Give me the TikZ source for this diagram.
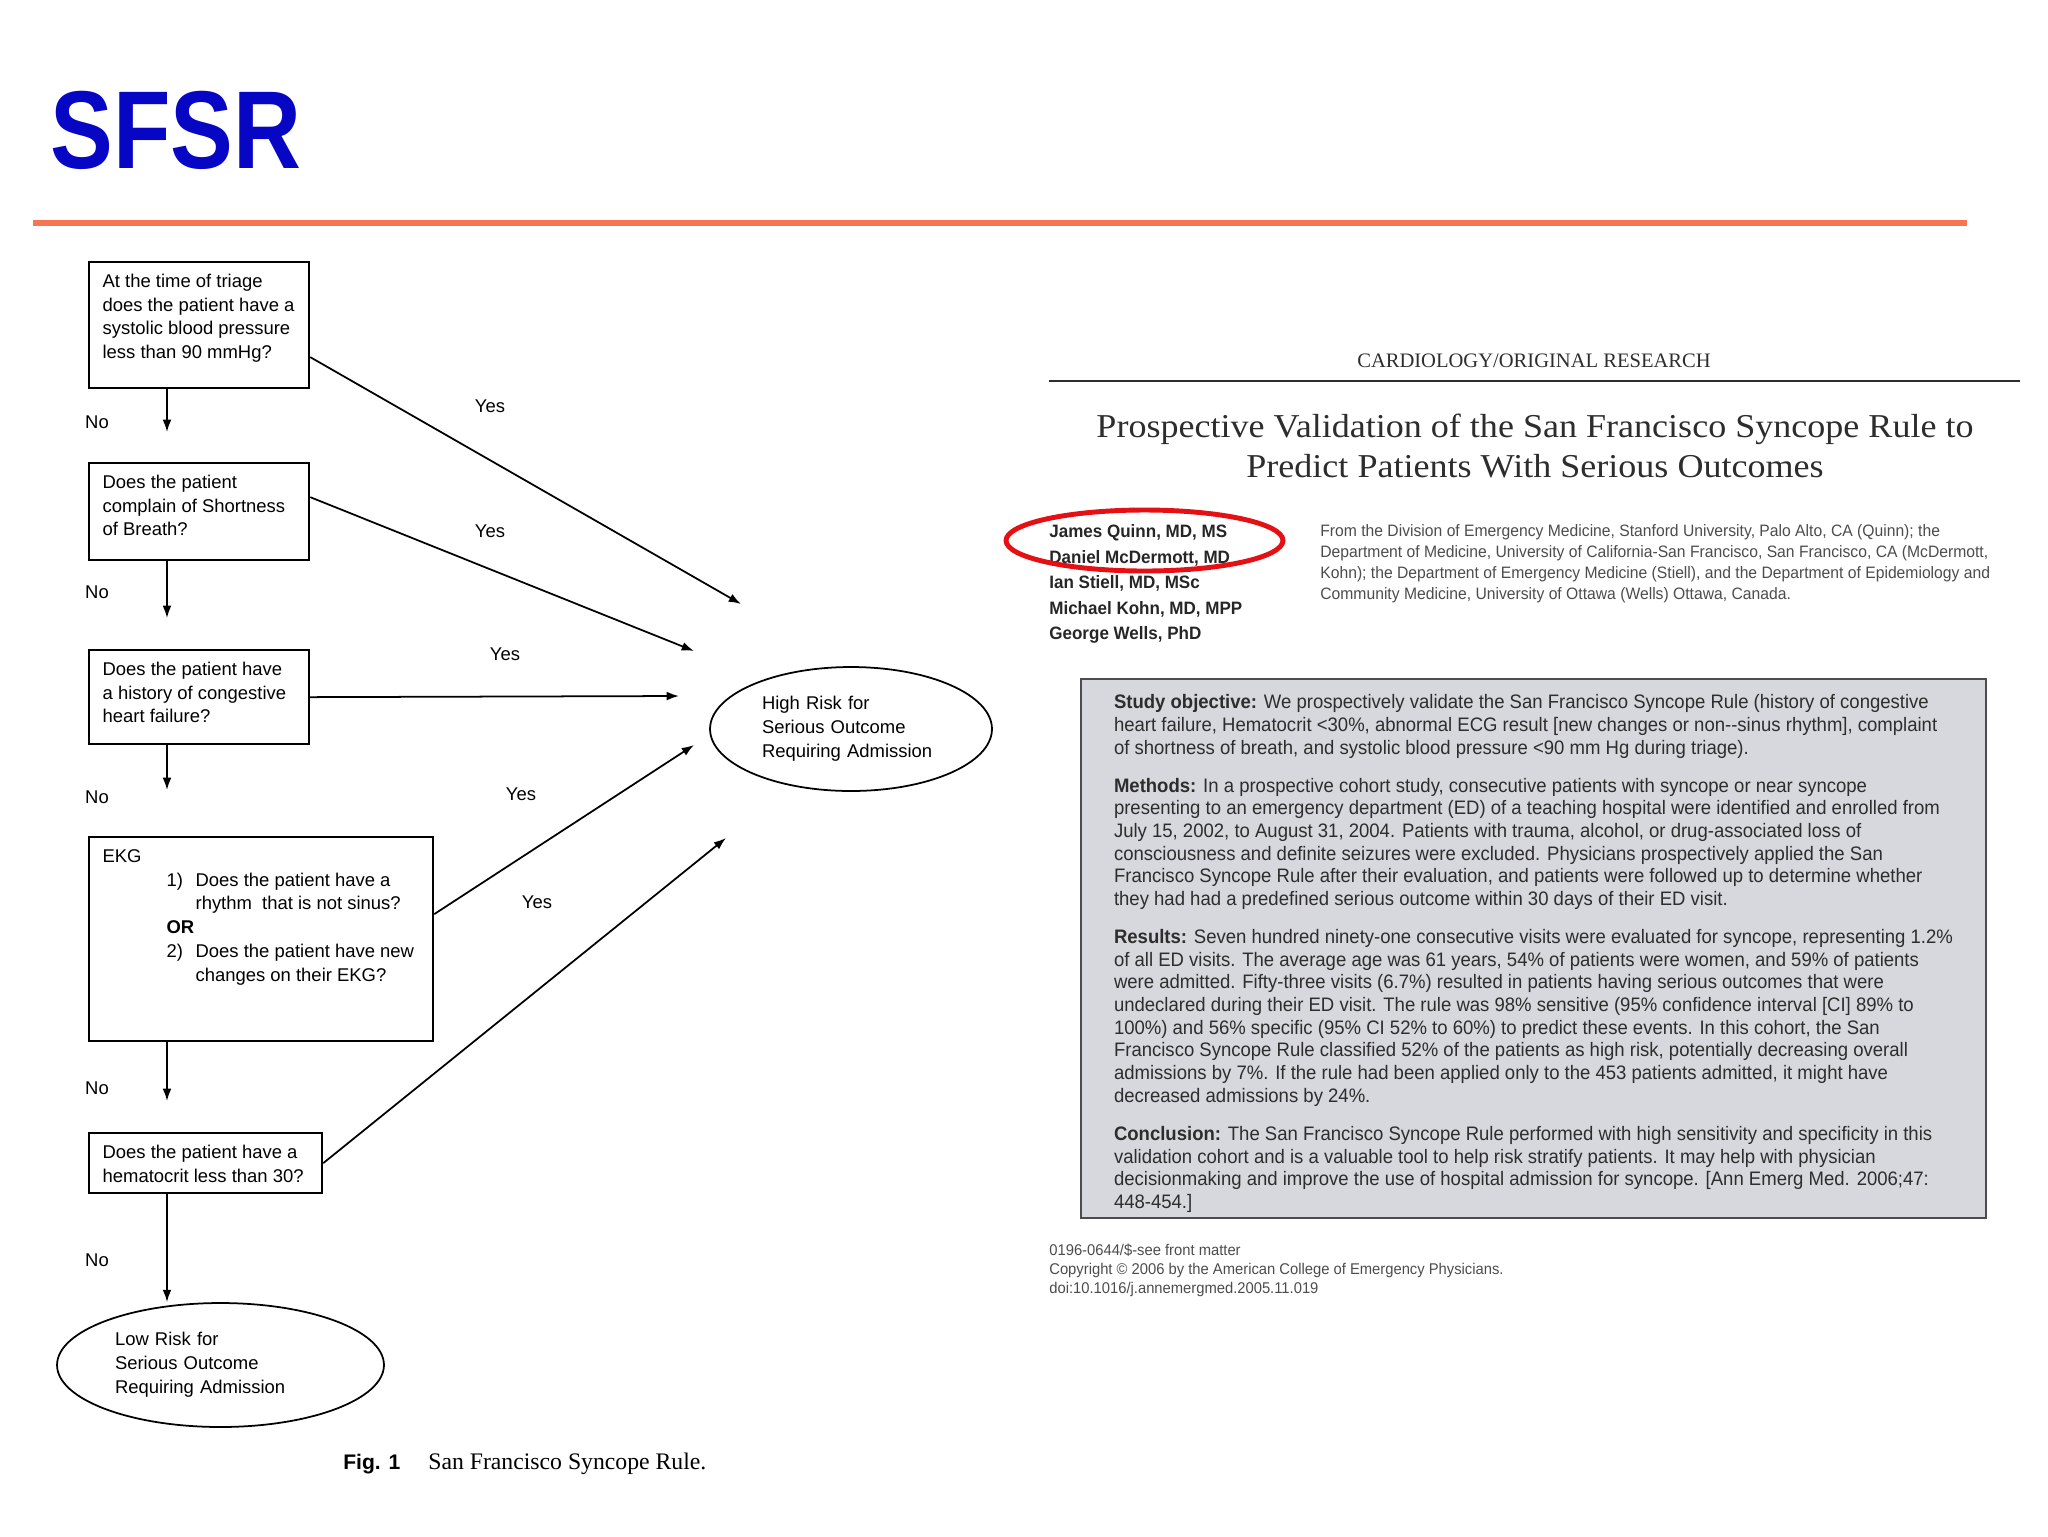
\documentclass[tikz,border=0pt]{standalone}
\usepackage{fontspec}
\setmainfont{Liberation Sans}
\newfontfamily\paperserif{Liberation Serif}
\newfontfamily\paperwide[FakeStretch=1.08]{Liberation Serif}
\newfontfamily\slidefont[FakeStretch=0.85]{Liberation Sans}
\newfontfamily\abssans[FakeStretch=0.95]{Liberation Sans}
\usetikzlibrary{arrows.meta, positioning, shapes.geometric}
\definecolor{sfsrblue}{RGB}{6,6,196}
\definecolor{ruleorange}{RGB}{246,118,84}
\definecolor{absgray}{RGB}{214,216,221}
\definecolor{inkgray}{RGB}{45,45,45}
\definecolor{markred}{RGB}{228,16,20}
\newcommand{\flowfont}{\fontsize{10.5}{13.6}\selectfont}
\newcommand{\qtext}[3]{\parbox[t][#1][t]{#2}{\begin{tabular}[t]{@{}l@{}}#3\end{tabular}}}
\newcommand{\ekgitem}[2]{\hspace*{1.28cm}\makebox[0.58cm][l]{#1}#2}

\begin{document}
\begin{tikzpicture}[
  x=0.02cm, y=-0.02cm,
  qbox/.style={draw, line width=1.3pt, anchor=north west, inner xsep=0.28cm, inner ysep=0.166cm, font=\flowfont},
  outcome/.style={draw, ellipse, line width=1pt, inner sep=0pt, align=left, font=\flowfont},
  arr/.style={-{Latex[length=7pt, width=5pt]}, line width=1pt},
  lbl/.style={font=\flowfont, inner sep=1pt}
]
\useasboundingbox (0,0) rectangle (2048,1536);

% Slide heading
\node[anchor=base west, inner sep=0pt, text=sfsrblue, font=\slidefont\bfseries\fontsize{63}{63}\selectfont] (slidetitle) at (50,168) {SFSR};
\draw[ruleorange, line width=3.4pt] (33,223) -- (1967,223);

% Flowchart: questions
\node[qbox] (q1) at (87.5,261) {\qtext{2.188cm}{3.85cm}{At the time of triage\\ does the patient have a\\ systolic blood pressure\\ less than 90 mmHg?}};
\node[qbox] (q2) at (87.5,462) {\qtext{1.608cm}{3.85cm}{Does the patient\\ complain of Shortness\\ of Breath?}};
\node[qbox] (q3) at (87.5,649) {\qtext{1.548cm}{3.85cm}{Does the patient have\\ a history of congestive\\ heart failure?}};
\node[qbox] (q4) at (87.5,836) {\qtext{3.748cm}{6.33cm}{EKG\\ \ekgitem{1)}{Does the patient have a}\\ \ekgitem{}{rhythm\ \ that is not sinus?}\\ \hspace*{1.28cm}\textbf{OR}\\ \ekgitem{2)}{Does the patient have new}\\ \ekgitem{}{changes on their EKG?}}};
\node[qbox] (q5) at (87.5,1132) {\qtext{0.868cm}{4.11cm}{Does the patient have a\\ hematocrit less than 30?}};

% Flowchart: outcomes
\node[outcome, minimum width=5.64cm, minimum height=2.48cm, text width=3.56cm] (highrisk) at (851,729) {High Risk for\\ Serious Outcome\\ Requiring Admission};
\node[outcome, minimum width=6.54cm, minimum height=2.48cm, text width=4.22cm] (lowrisk) at (220.5,1365) {Low Risk for\\ Serious Outcome\\ Requiring Admission};

% arrow ends
\coordinate (n1) at (167,432);
\coordinate (n2) at (167,618);
\coordinate (n3) at (167,790);
\coordinate (n4) at (167,1101);
\coordinate (h1) at (741,604);
\coordinate (h2) at (694,651);
\coordinate (h3) at (679,696);
\coordinate (h4) at (694,745);
\coordinate (h5) at (726,838);

\draw[arr] (q1.south west -| n1) -- (n1);
\draw[arr] (q2.south west -| n2) -- (n2);
\draw[arr] (q3.south west -| n3) -- (n3);
\draw[arr] (q4.south west -| n4) -- (n4);
\draw[arr] (q5.south west -| n4) -- (lowrisk.north -| n4);

\draw[arr] ([yshift=-0.64cm]q1.east) -- (h1);
\draw[arr] ([yshift=0.29cm]q2.east) -- (h2);
\draw[arr] (q3.east) -- (h3);
\draw[arr] ([yshift=0.5cm]q4.east) -- (h4);
\draw[arr] (q5.east) -- (h5);

\node[lbl] (no1) at (97,422) {No};
\node[lbl] (no2) at (97,592) {No};
\node[lbl] (no3) at (97,797) {No};
\node[lbl] (no4) at (97,1088) {No};
\node[lbl] (no5) at (97,1260) {No};
\node[lbl] (yes1) at (490,406) {Yes};
\node[lbl] (yes2) at (490,531) {Yes};
\node[lbl] (yes3) at (505,654) {Yes};
\node[lbl] (yes4) at (521,794) {Yes};
\node[lbl] (yes5) at (537,902) {Yes};

% Figure caption
\node[anchor=base west, inner sep=0pt, font=\bfseries\fontsize{12}{14}\selectfont] (figno) at (343,1469) {Fig. 1};
\node[anchor=base west, inner sep=0pt, font=\paperserif\fontsize{13.5}{15}\selectfont] (figcap) at (428,1469) {San Francisco Syncope Rule.};

% Paper header
\node[anchor=base, inner sep=0pt, text=inkgray, font=\paperserif\fontsize{11.7}{13}\selectfont] (section) at (1534,367) {CARDIOLOGY/ORIGINAL RESEARCH};
\draw[inkgray, line width=1.2pt] (1049,381) -- (2020,381);
\node[align=center, inner sep=0pt, text=inkgray, font=\paperwide\fontsize{19}{23}\selectfont] (papertitle) at (1535,446) {Prospective Validation of the San Francisco Syncope Rule to\\ Predict Patients With Serious Outcomes};

\node[anchor=north west, align=left, inner sep=0pt, text=black!85, font=\abssans\bfseries\fontsize{10.2}{14.6}\selectfont] (authors) at (1049,524) {James Quinn, MD, MS\\ Daniel McDermott, MD\\ Ian Stiell, MD, MSc\\ Michael Kohn, MD, MPP\\ George Wells, PhD};
\node[draw=markred, line width=2.8pt, ellipse, minimum width=5.54cm, minimum height=1.22cm] (mark) at (1144.5,540.5) {};
\node[anchor=north west, align=left, inner sep=0pt, text=black!70, font=\abssans\fontsize{9.4}{12}\selectfont] (affil) at (1320,524) {From the Division of Emergency Medicine, Stanford University, Palo Alto, CA (Quinn); the\\ Department of Medicine, University of California-San Francisco, San Francisco, CA (McDermott,\\ Kohn); the Department of Emergency Medicine (Stiell), and the Department of Epidemiology and\\ Community Medicine, University of Ottawa (Wells) Ottawa, Canada.};

% Abstract
\node[draw=black!70, line width=1.5pt, fill=absgray, minimum width=18.1cm, minimum height=10.78cm] (absbox) at (1533.5,948.5) {};
\node[align=left, inner sep=0pt, text=inkgray, font=\abssans\fontsize{11.1}{12.9}\selectfont] (abstract) at ([yshift=-0.1cm]absbox.center) {\textbf{Study objective:} We prospectively validate the San Francisco Syncope Rule (history of congestive\\ heart failure, Hematocrit <30\%, abnormal ECG result [new changes or non--sinus rhythm], complaint\\ of shortness of breath, and systolic blood pressure <90 mm Hg during triage).\\[8.8pt]
\textbf{Methods:} In a prospective cohort study, consecutive patients with syncope or near syncope\\ presenting to an emergency department (ED) of a teaching hospital were identified and enrolled from\\ July 15, 2002, to August 31, 2004. Patients with trauma, alcohol, or drug-associated loss of\\ consciousness and definite seizures were excluded. Physicians prospectively applied the San\\ Francisco Syncope Rule after their evaluation, and patients were followed up to determine whether\\ they had had a predefined serious outcome within 30 days of their ED visit.\\[8.8pt]
\textbf{Results:} Seven hundred ninety-one consecutive visits were evaluated for syncope, representing 1.2\%\\ of all ED visits. The average age was 61 years, 54\% of patients were women, and 59\% of patients\\ were admitted. Fifty-three visits (6.7\%) resulted in patients having serious outcomes that were\\ undeclared during their ED visit. The rule was 98\% sensitive (95\% confidence interval [CI] 89\% to\\ 100\%) and 56\% specific (95\% CI 52\% to 60\%) to predict these events. In this cohort, the San\\ Francisco Syncope Rule classified 52\% of the patients as high risk, potentially decreasing overall\\ admissions by 7\%. If the rule had been applied only to the 453 patients admitted, it might have\\ decreased admissions by 24\%.\\[8.8pt]
\textbf{Conclusion:} The San Francisco Syncope Rule performed with high sensitivity and specificity in this\\ validation cohort and is a valuable tool to help risk stratify patients. It may help with physician\\ decisionmaking and improve the use of hospital admission for syncope. [Ann Emerg Med. 2006;47:\\ 448-454.]};

\node[anchor=north west, align=left, inner sep=0pt, text=black!70, font=\abssans\fontsize{8.85}{10.8}\selectfont] (footer) at (1049,1244) {0196-0644/\$-see front matter\\ Copyright \textcopyright{} 2006 by the American College of Emergency Physicians.\\ doi:10.1016/j.annemergmed.2005.11.019};

\end{tikzpicture}
\end{document}
